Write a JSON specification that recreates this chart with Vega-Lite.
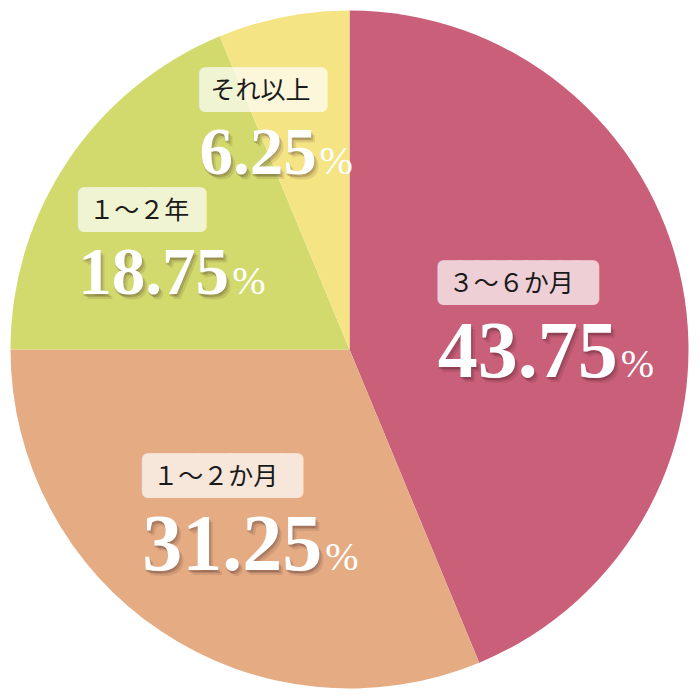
{
  "$schema": "https://vega.github.io/schema/vega-lite/v6.json",
  "width": 699,
  "height": 699,
  "padding": 0,
  "autosize": {"type": "none"},
  "background": "white",
  "config": {"view": {"stroke": null}},
  "data": {
    "values": [
      {"label": "３～６か月", "value": 43.75},
      {"label": "１～２か月", "value": 31.25},
      {"label": "１～２年", "value": 18.75},
      {"label": "それ以上", "value": 6.25}
    ]
  },
  "encoding": {
    "theta": {"field": "value", "type": "quantitative", "stack": true},
    "order": {"field": "value", "type": "quantitative", "sort": "descending"}
  },
  "layer": [
    {
      "mark": {"type": "arc", "outerRadius": 339},
      "encoding": {
        "color": {
          "field": "label",
          "type": "nominal",
          "scale": {
            "domain": ["３～６か月", "１～２か月", "１～２年", "それ以上"],
            "range": ["#C95F78", "#E5AC84", "#D2DA6E", "#F5E484"]
          },
          "legend": null
        }
      }
    },
    {
      "mark": {"type": "text", "font": "DejaVu Sans Mono", "fontSize": 27.5, "align": "left", "baseline": "middle", "dx": -98, "dy": -27, "fill": "white", "stroke": "white", "strokeWidth": 12, "strokeJoin": "round", "opacity": 0.7},
      "encoding": {
        "radius": {"field": "value", "type": "quantitative", "scale": {"type": "linear", "zero": false, "domain": [6.25, 18.75, 31.25, 43.75], "range": [236, 201, 186, 196]}},
        "text": {"condition": {"test": "length(datum.label) >= 5", "value": "█████████"}, "value": "███████"}
      }
    },
    {
      "mark": {"type": "text", "font": "Noto Sans CJK JP", "fontSize": 25, "align": "left", "baseline": "middle", "dx": -93, "dy": -27, "fill": "#1a1a1a"},
      "encoding": {
        "radius": {"field": "value", "type": "quantitative"},
        "text": {"field": "label", "type": "nominal"}
      }
    },
    {
      "mark": {"type": "text", "font": "Liberation Serif", "fontWeight": "bold", "align": "left", "baseline": "top", "dx": -100, "dy": 8, "fill": "#2a0d15", "opacity": 0.1},
      "encoding": {
        "radius": {"field": "value", "type": "quantitative"},
        "text": {"field": "value", "type": "quantitative", "format": ".2f"},
        "size": {"field": "value", "type": "quantitative", "scale": {"type": "threshold", "domain": [25], "range": [67, 80]}, "legend": null}
      }
    },
    {
      "mark": {"type": "text", "font": "Liberation Serif", "fontWeight": "bold", "align": "left", "baseline": "top", "dx": -102, "dy": 6, "fill": "#2a0d15", "opacity": 0.15},
      "encoding": {
        "radius": {"field": "value", "type": "quantitative"},
        "text": {"field": "value", "type": "quantitative", "format": ".2f"},
        "size": {"field": "value", "type": "quantitative", "scale": {"type": "threshold", "domain": [25], "range": [67, 80]}, "legend": null}
      }
    },
    {
      "mark": {"type": "text", "font": "Liberation Serif", "fontWeight": "bold", "align": "left", "baseline": "top", "dx": -104, "dy": 5, "fill": "#2a0d15", "opacity": 0.15},
      "encoding": {
        "radius": {"field": "value", "type": "quantitative"},
        "text": {"field": "value", "type": "quantitative", "format": ".2f"},
        "size": {"field": "value", "type": "quantitative", "scale": {"type": "threshold", "domain": [25], "range": [67, 80]}, "legend": null}
      }
    },
    {
      "mark": {"type": "text", "font": "Liberation Serif", "fontWeight": "bold", "align": "left", "baseline": "top", "dx": -104, "dy": 3, "fill": "white"},
      "encoding": {
        "radius": {"field": "value", "type": "quantitative"},
        "text": {"field": "value", "type": "quantitative", "format": ".2f"},
        "size": {"field": "value", "type": "quantitative", "scale": {"type": "threshold", "domain": [25], "range": [67, 80]}, "legend": null}
      }
    },
    {
      "mark": {"type": "text", "font": "Liberation Serif", "fontSize": 40, "align": "left", "baseline": "alphabetic", "dx": 79, "dy": 66, "fill": "white"},
      "encoding": {
        "radius": {"field": "value", "type": "quantitative"},
        "text": {"condition": {"test": "datum.value > 25", "value": "%"}, "value": ""}
      }
    },
    {
      "mark": {"type": "text", "font": "Liberation Serif", "fontSize": 40, "align": "left", "baseline": "alphabetic", "dx": 50, "dy": 56, "fill": "white"},
      "encoding": {
        "radius": {"field": "value", "type": "quantitative"},
        "text": {"condition": {"test": "datum.value > 10 && datum.value < 25", "value": "%"}, "value": ""}
      }
    },
    {
      "mark": {"type": "text", "font": "Liberation Serif", "fontSize": 40, "align": "left", "baseline": "alphabetic", "dx": 16, "dy": 56, "fill": "white"},
      "encoding": {
        "radius": {"field": "value", "type": "quantitative"},
        "text": {"condition": {"test": "datum.value < 10", "value": "%"}, "value": ""}
      }
    }
  ]
}
